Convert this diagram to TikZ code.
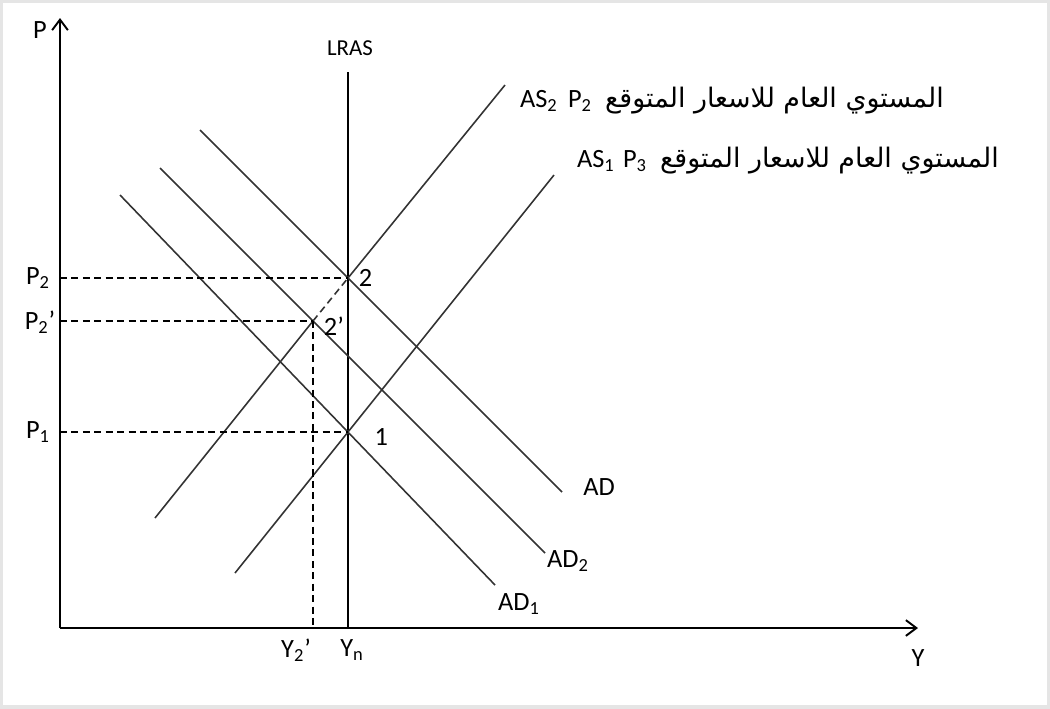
\documentclass[tikz,border=0pt]{standalone}
\usepackage{fontspec}
\setmainfont{Carlito}
\newfontfamily\arabicfont[Script=Arabic]{DejaVu Sans}
\TeXXeTstate=1
\usetikzlibrary{positioning, arrows.meta}

\begin{document}
\begin{tikzpicture}[
    x=0.02cm, y=-0.02cm,
    axis/.style={
        -{Straight Barb[length=6pt, width=9pt]},
        line width=1.1pt
    },
    curve/.style={
        line width=0.9pt,
        black!80
    },
    guide/.style={
        dash pattern=on 4pt off 2.5pt,
        line width=0.9pt
    },
    lbl/.style={
        font=\fontsize{15}{17}\selectfont,
        inner sep=1pt
    },
    note/.style={
        font=\fontsize{15}{17}\selectfont,
        inner sep=1pt,
        anchor=west
    }
]
\useasboundingbox (0,0) rectangle (1050,708);
\draw[gray!20, line width=3pt] (0,0) rectangle (1050,708);

% Axes
\coordinate (O) at (60,628);
\coordinate (ptop) at (60,18);
\coordinate (yend) at (918,628);
\draw [axis] (O) -- (ptop);
\draw [axis] (O) -- (yend);
\node (p) at (40,30) [lbl] {P};
\node (y) at (918,658) [lbl] {Y};

% Equilibrium points
\coordinate (e2)  at (348,278);
\coordinate (e2p) at (313,321);
\coordinate (e1)  at (348,432);

% Long run supply
\coordinate (lrtop) at (348,72);
\coordinate (yn) at (O -| e1);
\draw [line width=1.1pt] (lrtop) -- (yn);
\node (lras) at (350,48) [lbl, font=\fontsize{13}{15}\selectfont] {LRAS};

% Short run supply curves
\coordinate (as2a) at (155,518);
\coordinate (as2b) at (505,85);
\coordinate (as1a) at (235,573);
\coordinate (as1b) at (554,175);
\draw [curve] (as2a) -- (e2p);
\draw [curve, dash pattern=on 4pt off 2.5pt] (e2p) -- (e2);
\draw [curve] (e2) -- (as2b);
\draw [curve] (as1a) -- (as1b);
\node (as2) at (518,101) [note] {AS\textsubscript{2}};
\node (as1) at (575,161) [note] {AS\textsubscript{1}};

% Demand curves
\coordinate (ada)  at (200,130);
\coordinate (adb)  at (562,492);
\coordinate (ad2a) at (160,168);
\coordinate (ad2b) at (545,553);
\coordinate (ad1a) at (120,195);
\coordinate (ad1b) at (495,585);
\draw [curve] (ada) -- (adb);
\draw [curve] (ad2a) -- (ad2b);
\draw [curve] (ad1a) -- (ad1b);
\node (ad)  at (599,487) [lbl] {AD};
\node (ad2) at (568,561) [lbl] {AD\textsubscript{2}};
\node (ad1) at (519,604) [lbl] {AD\textsubscript{1}};

% Expected price notes
\node (note2) at (566,101) [note] {P\textsubscript{2}\enspace{\arabicfont\fontsize{15.3}{17}\selectfont\beginR المستوي العام للاسعار المتوقع\endR}};
\node (note3) at (621,161) [note] {P\textsubscript{3}\enspace{\arabicfont\fontsize{15.3}{17}\selectfont\beginR المستوي العام للاسعار المتوقع\endR}};

% Guide lines
\draw [guide] (O |- e2) -- (e2);
\draw [guide] (O |- e2p) -- (e2p);
\draw [guide] (O |- e1) -- (e1);
\draw [guide] (e2p) -- (O -| e2p);
\node (p2)  at (38,278) [lbl] {P\textsubscript{2}};
\node (p2p) at (40,322) [lbl] {P\textsubscript{2}’};
\node (p1)  at (38,432) [lbl] {P\textsubscript{1}};
\node (y2p) at (296,650) [lbl] {Y\textsubscript{2}’};
\node (yp)  at (352,650) [lbl] {Y\textsubscript{n}};

% Point labels
\node (l2)  at (e2)  [lbl, right=5pt of e2] {2};
\node (l2p) at (e2p) [lbl, right=5pt of e2p, yshift=-3pt] {2’};
\node (l1)  at (e1)  [lbl, right=14pt of e1, yshift=-3pt] {1};

\end{tikzpicture}
\end{document}
